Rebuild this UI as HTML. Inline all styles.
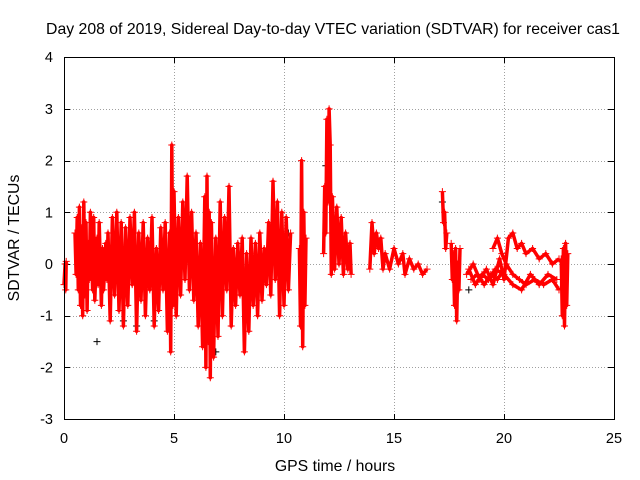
<!DOCTYPE html>
<html><head><meta charset="utf-8"><style>
body{margin:0;background:#fff}
svg{display:block;font-family:"Liberation Sans",sans-serif}
</style></head><body>
<svg id="chart" width="640" height="480" viewBox="0 0 640 480">
<rect width="640" height="480" fill="#fff"/>
<text x="333" y="34" font-size="15.8" text-anchor="middle">Day 208 of 2019, Sidereal Day-to-day VTEC variation (SDTVAR) for receiver cas1</text>
<g id="grid"></g>
<g id="axes"></g>
<g id="marks"></g>
<rect x="64.5" y="57.5" width="550" height="362" fill="none" stroke="#000" stroke-width="1"/>
<text x="335" y="471" font-size="15.8" text-anchor="middle">GPS time / hours</text>
<text x="0" y="0" font-size="15.8" text-anchor="middle" transform="translate(19,238) rotate(-90)">SDTVAR / TECUs</text>
</svg>
<script>
const xTicks=[0,5,10,15,20,25];
const yTicks=[4,3,2,1,0,-1,-2,-3];
const hours=[0.0,0.05,0.08,0.1,NaN,
0.5,0.55,0.6,0.65,0.7,0.75,0.8,0.85,0.9,0.95,1.0,1.05,1.1,1.15,1.2,1.3,1.35,1.4,1.5,1.55,1.6,1.7,1.75,1.8,1.9,1.95,2.0,
2.1,2.2,2.3,2.4,2.5,2.6,2.7,2.8,2.9,3.0,3.1,3.2,3.3,3.4,3.5,3.6,3.7,3.8,3.9,4.0,4.1,4.2,4.3,4.4,4.5,4.6,4.7,4.8,4.85,4.9,4.95,5.0,5.1,5.2,5.3,5.4,5.5,5.6,5.7,5.8,5.9,6.0,6.1,6.2,6.3,6.4,6.45,6.5,6.55,6.6,6.65,6.7,6.8,6.9,7.0,7.1,7.2,7.3,7.4,7.5,7.6,7.7,7.8,7.9,8.0,8.1,8.2,8.3,8.4,8.5,8.6,8.7,8.8,8.9,9.0,9.1,9.2,9.3,9.4,9.5,9.6,9.7,9.8,9.9,10.0,10.1,10.2,10.3,NaN,
10.7,10.75,10.8,10.85,10.9,10.95,11.0,NaN,
11.8,11.85,11.9,11.95,12.0,12.05,12.1,12.15,12.2,12.3,12.4,12.5,12.6,12.7,12.8,12.9,13.0,13.05,NaN,
13.9,14.0,14.1,14.2,14.3,14.4,14.5,14.6,14.8,15.0,15.2,15.4,15.5,15.7,15.9,16.1,16.3,16.5,NaN,
17.2,17.25,17.3,17.35,17.4,NaN,
17.6,17.65,17.7,17.75,17.8,17.85,17.9,17.95,18.0,NaN,
18.3,18.6,18.9,19.2,19.5,19.8,20.0,20.2,20.4,20.6,20.8,21.0,21.3,21.6,21.9,22.2,22.5,NaN,
19.5,19.7,19.9,20.1,20.4,20.7,21.0,21.4,21.8,22.2,22.5,NaN,
18.5,18.8,19.1,19.4,19.7,20.0,NaN,
18.4,18.7,19.0,19.3,19.6,20.0,20.4,20.8,21.2,21.6,22.0,22.4,NaN,
22.6,22.65,22.7,22.75,22.8,22.85,22.9];
const sdtvar=[-0.4,0.0,-0.5,0.05,NaN,
0.6,-0.2,0.9,-0.5,1.1,-0.8,0.7,-1.0,1.2,-0.6,0.8,-0.9,0.4,-0.3,1.0,-0.5,0.9,-0.7,0.5,-0.4,0.8,-0.8,0.3,-0.5,0.4,-0.3,0.6,
-1.1,0.9,-0.6,1.0,-0.9,0.8,-1.2,0.7,-0.8,0.9,-0.4,1.0,-1.3,0.6,-0.7,0.8,-1.0,0.5,-0.5,0.9,-1.2,0.3,-0.9,0.7,-0.5,0.8,-1.3,0.6,-1.7,2.3,-0.8,1.4,-1.0,0.9,-0.6,1.2,-0.3,1.7,-0.5,1.0,-0.7,0.6,-1.2,0.4,-1.6,1.3,-2.0,1.7,-1.5,1.0,-2.2,0.8,-1.8,0.5,-1.4,1.2,-1.0,0.9,-0.5,1.5,-1.2,0.3,-0.8,0.4,-0.6,0.5,-1.7,0.2,-1.3,0.5,-0.8,0.4,-1.0,0.6,-0.7,0.3,-0.4,0.8,-0.6,1.6,-0.3,1.2,-1.0,1.0,-0.8,0.9,-0.5,0.6,NaN,
0.3,-1.2,2.0,-1.6,1.0,-0.8,0.5,NaN,
0.2,1.5,0.6,2.8,1.2,3.0,2.3,-0.2,1.3,-0.1,1.1,0.0,0.9,-0.2,0.6,-0.1,0.4,-0.2,NaN,
-0.1,0.8,0.2,0.6,0.3,0.5,-0.1,0.2,-0.1,0.3,0.0,0.2,-0.2,0.1,-0.1,0.0,-0.2,-0.1,NaN,
1.4,0.8,1.0,0.3,0.6,NaN,
0.4,-0.3,0.2,-0.8,0.3,-1.1,0.0,-0.5,0.3,NaN,
-0.2,0.0,-0.3,-0.1,-0.4,0.1,-0.3,0.5,0.6,0.3,0.4,0.2,0.3,0.1,0.2,0.0,0.1,NaN,
0.3,0.5,0.2,0.0,-0.2,-0.3,-0.4,-0.3,-0.4,-0.3,-0.5,NaN,
-0.3,-0.2,-0.4,-0.2,-0.3,-0.1,NaN,
-0.1,-0.4,-0.2,-0.3,-0.1,-0.2,-0.4,-0.5,-0.2,-0.4,-0.2,-0.3,NaN,
0.1,-1.0,0.3,-1.2,0.4,-0.8,0.2];
const blackHours=[1.5,2.7,3.3,4.1,6.5,6.9,10.2,11.9,17.2,18.4];
const blackValues=[-1.5,-1.1,-1.2,-1.1,-1.5,-1.7,0.6,1.9,1.2,-0.5];

const NS='http://www.w3.org/2000/svg';
const X=h=>64+h*22, Y=v=>264-v*(362/7);
const grid=document.getElementById('grid'), axes=document.getElementById('axes'), marks=document.getElementById('marks');
function mk(tag,attrs,parent){const e=document.createElementNS(NS,tag);for(const k in attrs)e.setAttribute(k,attrs[k]);parent.appendChild(e);return e;}
xTicks.forEach(t=>{
  const x=X(t)+0.5;
  if(t>0&&t<25){const g=mk('line',{x1:x,x2:x,y1:57,y2:420,stroke:'#a0a0a0','stroke-dasharray':'1,2'},grid);
  
  }
  mk('line',{x1:x,x2:x,y1:420,y2:414,stroke:'#000'},axes);
  mk('line',{x1:x,x2:x,y1:57,y2:63,stroke:'#000'},axes);
  const l=mk('text',{x:X(t),y:443,'font-size':14.5,'text-anchor':'middle'},axes);l.textContent=t;
  
  
});
yTicks.forEach(t=>{
  const y=Math.round(Y(t))+0.5;
  if(t<4&&t>-3){const g=mk('line',{x1:64,x2:614,y1:y,y2:y,stroke:'#a0a0a0','stroke-dasharray':'1,2'},grid);
  
  }
  mk('line',{x1:64,x2:70,y1:y,y2:y,stroke:'#000'},axes);
  mk('line',{x1:608,x2:614,y1:y,y2:y,stroke:'#000'},axes);
  const l=mk('text',{x:53,y:Y(t)+5,'font-size':14.5,'text-anchor':'end'},axes);l.textContent=t;
  
  
});
function crosses(hs,vs,color,name){
  let d='';
  for(let i=0;i<hs.length;i++){if(isNaN(hs[i])||isNaN(vs[i]))continue;const x=X(hs[i]),y=Y(vs[i]);d+=`M${x-3.5} ${y}h7M${x} ${y-3.5}v7`;}
  const p=mk('path',{d:d,stroke:color,'stroke-width':1,fill:'none'},marks);
  
  
}
let pd='',pen=false;
for(let i=0;i<hours.length;i++){
  if(isNaN(hours[i])||isNaN(sdtvar[i])){pen=false;continue;}
  pd+=(pen?'L':'M')+X(hours[i])+' '+Y(sdtvar[i]);pen=true;
}
crosses(blackHours,blackValues,'#000','black-points');
const trace=mk('path',{d:pd,stroke:'#ff0000','stroke-width':3.5,fill:'none','stroke-linejoin':'round'},marks);


crosses(hours,sdtvar,'#ff0000','red-points');
</script>
</body></html>
